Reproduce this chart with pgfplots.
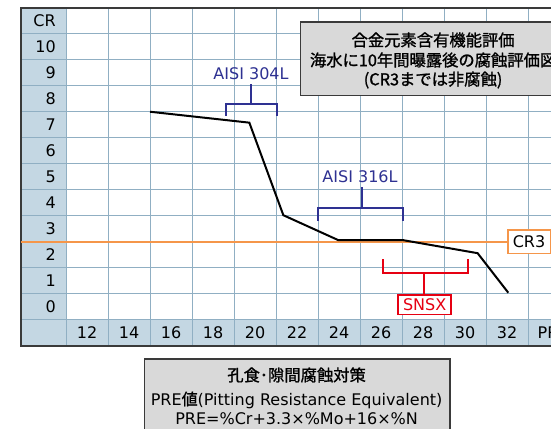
\documentclass[border=0pt]{standalone}
\usepackage{pgfplots}
\pgfplotsset{compat=1.18}
\usepackage{fontspec}
\setmainfont{DejaVu Sans}
\newfontfamily\cjk{Noto Sans CJK JP}[FakeBold=1.2]
\definecolor{cellfill}{HTML}{C4D7E3}
\definecolor{gridc}{HTML}{90AFC3}
\definecolor{navy}{HTML}{2E3192}
\definecolor{redc}{HTML}{E60012}
\definecolor{orangec}{HTML}{F5964A}
\definecolor{boxgray}{HTML}{D9D9D9}
\definecolor{framec}{HTML}{3A3A3A}
\begin{document}
\begin{tikzpicture}
\useasboundingbox (0,0) rectangle (551pt,428pt);
\clip (0,0) rectangle (551pt,428pt);
\begin{axis}[
  width=551pt, height=428pt, scale only axis,
  xmin=7.857, xmax=34.095, ymin=-4.1538, ymax=12.3077,
  axis lines=none, clip=false,
]
% table background
\fill[white] (axis cs:8.85,-1) rectangle (axis cs:36,12);
\fill[cellfill] (axis cs:8.85,-1) rectangle (axis cs:11,12);
\fill[cellfill] (axis cs:8.85,-1) rectangle (axis cs:36,0);
% grid
\foreach \yy in {0,1,...,11} {
  \edef\tmp{\noexpand\draw[gridc, line width=1pt] (axis cs:8.85,\yy) -- (axis cs:36,\yy);}\tmp
}
\foreach \xx in {11,13,...,33} {
  \edef\tmp{\noexpand\draw[gridc, line width=1pt] (axis cs:\xx,-1) -- (axis cs:\xx,12);}\tmp
}
% frame
\draw[framec, line width=2pt] (axis cs:36,12) -- (axis cs:8.85,12) -- (axis cs:8.85,-1) -- (axis cs:36,-1);
% row labels
\foreach \lab/\yy in {CR/11.5,10/10.5,9/9.5,8/8.5,7/7.5,6/6.5,5/5.5,4/4.5,3/3.5,2/2.5,1/1.5,0/0.5} {
  \edef\tmp{\noexpand\node[anchor=east, inner sep=0pt, font=\noexpand\fontsize{16}{18}\noexpand\selectfont] at (axis cs:10.52,\yy) {\lab};}\tmp
}
% column labels
\foreach \xx in {12,14,...,32} {
  \edef\tmp{\noexpand\node[inner sep=0pt, font=\noexpand\fontsize{16}{18}\noexpand\selectfont] at (axis cs:\xx,-0.5) {\xx};}\tmp
}
\node[anchor=west, inner sep=0pt, font=\fontsize{16}{18}\selectfont] at (axis cs:33.45,-0.5) {PRE};
% CR3 line
\draw[orangec, line width=1.5pt] (axis cs:8.85,3) -- (axis cs:36,3);
% data curve
\addplot[black, line width=2pt, mark=none] coordinates {
  (15,8.01) (19.73,7.59) (21.35,4.03) (23.97,3.07) (27.06,3.07) (30.60,2.57) (32.06,1.05)
};
% CR3 box
\draw[orangec, line width=1.5pt, fill=white] (axis cs:32.05,2.56) rectangle (axis cs:34.1,3.46);
\node[inner sep=0pt, font=\fontsize{16}{18}\selectfont] at (axis cs:33.05,3.0) {CR3};
% AISI 304L
\draw[navy, line width=2pt] (axis cs:18.60,7.85) -- (axis cs:18.60,8.31) -- (axis cs:21.03,8.31) -- (axis cs:21.03,7.85);
\draw[navy, line width=2pt] (axis cs:19.81,8.31) -- (axis cs:19.81,9.07);
\node[navy, inner sep=0pt, font=\fontsize{16}{18}\selectfont] at (axis cs:19.81,9.49) {AISI 304L};
% AISI 316L
\draw[navy, line width=2pt] (axis cs:23.01,3.82) -- (axis cs:23.01,4.30) -- (axis cs:27.06,4.30) -- (axis cs:27.06,3.82);
\draw[navy, line width=2pt] (axis cs:25.08,4.30) -- (axis cs:25.08,5.10);
\node[navy, inner sep=0pt, font=\fontsize{16}{18}\selectfont] at (axis cs:25.0,5.51) {AISI 316L};
% SNSX
\draw[redc, line width=2pt] (axis cs:26.11,2.33) -- (axis cs:26.11,1.82) -- (axis cs:30.16,1.82) -- (axis cs:30.16,2.33);
\draw[redc, line width=2pt] (axis cs:28.05,1.82) -- (axis cs:28.05,0.96);
\draw[redc, line width=1.5pt, fill=white] (axis cs:26.82,0.22) rectangle (axis cs:29.33,0.96);
\node[redc, inner sep=0pt, font=\fontsize{16}{18}\selectfont] at (axis cs:28.08,0.59) {SNSX};
% title box
\draw[framec, line width=1.5pt, fill=boxgray] (axis cs:22.17,8.63) rectangle (axis cs:34.8,11.47);
\node[inner sep=0pt, font=\cjk\fontsize{16.3}{18}\selectfont] at (axis cs:28.48,10.77) {合金元素含有機能評価};
\node[inner sep=0pt, font=\cjk\fontsize{16.3}{18}\selectfont] at (axis cs:28.48,10.0) {海水に10年間曝露後の腐蝕評価図};
\node[inner sep=0pt, font=\cjk\fontsize{16.3}{18}\selectfont] at (axis cs:28.48,9.23) {(CR3までは非腐蝕)};
% bottom box
\draw[framec, line width=1.5pt, fill=boxgray] (axis cs:14.73,-4.5) rectangle (axis cs:29.29,-1.5);
\node[inner sep=0pt, font=\cjk\fontsize{16.3}{18}\selectfont] at (axis cs:21.98,-2.115) {孔食･隙間腐蝕対策};
\node[inner sep=0pt, font=\fontsize{16}{18}\selectfont] at (axis cs:21.98,-3.077) {PRE{\cjk 値}(Pitting Resistance Equivalent)};
\node[inner sep=0pt, font=\fontsize{16}{18}\selectfont] at (axis cs:21.98,-3.80) {PRE=\%Cr+3.3×\%Mo+16×\%N};
\end{axis}
\end{tikzpicture}
\end{document}
